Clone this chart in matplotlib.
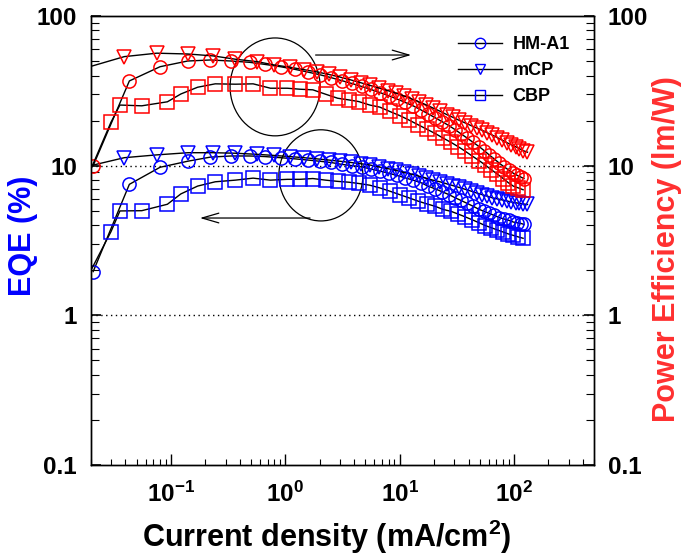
import matplotlib
matplotlib.use("Agg")
import matplotlib.pyplot as plt
from matplotlib.lines import Line2D
from matplotlib.patches import Ellipse

plt.rcParams['font.family'] = ['Liberation Sans', 'DejaVu Sans']
plt.rcParams['font.weight'] = 'bold'
plt.rcParams['mathtext.fontset'] = 'custom'
plt.rcParams['mathtext.rm'] = 'Liberation Sans:bold'
plt.rcParams['mathtext.bf'] = 'Liberation Sans:bold'
plt.rcParams['mathtext.default'] = 'bf'

# current density (mA/cm2) for each device
j_hm = [0.0209, 0.0433, 0.0803, 0.140, 0.221, 0.335, 0.489, 0.658, 0.908, 1.21,
        1.57, 2.00, 2.49, 3.11, 3.81, 4.66, 5.58, 6.70, 8.04, 9.44,
        11.1, 13.1, 15.3, 17.7, 20.4, 23.4, 27.0, 30.5, 34.4, 38.8,
        43.9, 49.5, 54.8, 60.6, 67.0, 74.1, 82.0, 90.8, 98.4, 107, 116, 122]
j_mcp = [0.0150, 0.0391, 0.0752, 0.141, 0.233, 0.366, 0.568, 0.793, 1.09, 1.45,
         1.88, 2.39, 2.99, 3.73, 4.57, 5.48, 6.58, 7.88, 9.27, 10.9,
         12.8, 14.7, 17.0, 19.5, 22.5, 25.9, 29.3, 33.0, 37.3, 42.2,
         47.5, 52.6, 58.2, 64.4, 71.3, 78.8, 87.1, 94.4, 103, 111, 120, 131]
j_cbp = [0.0150, 0.0299, 0.0358, 0.0556, 0.0931, 0.122, 0.171, 0.244, 0.366, 0.523,
         0.741, 1.04, 1.34, 1.74, 2.25, 2.87, 3.58, 4.38, 5.48, 6.70,
         8.20, 10.0, 12.0, 14.4, 17.3, 20.4, 23.9, 28.1, 32.4, 37.3,
         43.0, 49.5, 55.9, 63.1, 71.2, 80.3, 88.9, 98.4, 109, 120]

# external quantum efficiency (%)
eqe_hm = [1.96, 7.5, 9.75, 10.7, 11.4, 11.6, 11.6, 11.5, 11.3, 11.1,
          10.9, 10.7, 10.5, 10.2, 10.0, 9.8, 9.5, 9.2, 8.9, 8.6,
          8.3, 8.0, 7.7, 7.3, 7.0, 6.7, 6.4, 6.1, 5.85, 5.6,
          5.35, 5.1, 4.95, 4.8, 4.65, 4.5, 4.4, 4.3, 4.2, 4.15, 4.1, 4.05]
eqe_mcp = [9.5, 11.3, 11.8, 12.2, 12.2, 12.1, 11.9, 11.7, 11.5, 11.3,
           11.1, 10.9, 10.7, 10.5, 10.3, 10.1, 9.8, 9.55, 9.3, 9.0,
           8.75, 8.5, 8.25, 8.0, 7.8, 7.55, 7.35, 7.15, 6.95, 6.75,
           6.55, 6.4, 6.25, 6.1, 6.0, 5.9, 5.8, 5.72, 5.65, 5.6, 5.55, 5.5]
eqe_cbp = [1.31, 3.62, 4.98, 5.0, 5.52, 6.47, 7.3, 7.8, 8.0, 8.25,
           8.0, 8.1, 8.1, 8.2, 8.0, 7.85, 7.75, 7.6, 7.4, 7.1,
           6.75, 6.4, 6.1, 5.8, 5.55, 5.35, 5.1, 4.95, 4.75, 4.55,
           4.35, 4.15, 3.98, 3.85, 3.72, 3.6, 3.5, 3.42, 3.34, 3.27]

# power efficiency (lm/W)
pe_hm = [10.0, 36.8, 45.8, 50.0, 50.8, 50.0, 49.0, 47.5, 45.8, 44.0,
         42.2, 40.5, 38.8, 37.0, 35.4, 33.8, 32.3, 30.8, 29.3, 27.9,
         26.5, 25.1, 23.6, 22.2, 20.9, 19.7, 18.5, 17.4, 16.3, 15.3,
         14.3, 13.4, 12.6, 11.8, 11.1, 10.4, 9.8, 9.3, 8.9, 8.6, 8.35, 8.2]
pe_mcp = [43.2, 53.5, 56.4, 55.7, 54.1, 51.4, 49.5, 47.1, 45.5, 43.8,
          42.3, 40.7, 39.1, 37.4, 35.8, 34.4, 33.0, 31.7, 30.5, 29.2,
          27.9, 26.7, 25.5, 24.3, 23.1, 21.9, 21.0, 20.1, 19.3, 18.5,
          17.8, 17.2, 16.6, 16.0, 15.4, 14.8, 14.2, 13.8, 13.4, 13.0, 12.6, 12.3]
pe_cbp = [5.7, 19.5, 25.4, 25.1, 26.7, 30.1, 33.4, 35.2, 35.0, 35.2,
          32.9, 32.9, 32.4, 32.1, 30.0, 28.2, 27.5, 26.8, 25.4, 24.6,
          23.0, 21.6, 20.2, 18.8, 17.5, 16.4, 15.3, 14.3, 13.4, 12.5,
          11.6, 10.8, 10.1, 9.4, 8.8, 8.2, 7.7, 7.3, 7.1, 6.9]

hosts = ['HM-A1', 'mCP', 'CBP']
markers = ['o', 'v', 's']

blue = '#0000ff'
red = '#ff0000'

fig = plt.figure(figsize=(6.92, 5.58), dpi=100)
ax = fig.add_axes([0.1315, 0.1667, 0.7269, 0.8047])
ax2 = ax.twinx()

ms = 9.5
for j, eqe, pe, m in zip([j_hm, j_mcp, j_cbp], [eqe_hm, eqe_mcp, eqe_cbp],
                         [pe_hm, pe_mcp, pe_cbp], markers):
    ax.plot(j, eqe, color='k', lw=1.0, marker=m, ms=ms, mfc='none', mec=blue, mew=1.1)
    ax2.plot(j, pe, color='k', lw=1.0, marker=m, ms=ms, mfc='none', mec=red, mew=1.1)

for a in (ax, ax2):
    a.set_xscale('log')
    a.set_yscale('log')
    a.set_xlim(0.02, 500)
    a.set_ylim(0.1, 100)
    a.set_yticks([0.1, 1, 10, 100])
    a.set_yticklabels(['0.1', '1', '10', '100'])
    a.tick_params(axis='y', which='major', direction='in', length=7, width=1.2, labelsize=17.5, pad=10)
    a.tick_params(axis='y', which='minor', direction='in', length=6, width=0.8)

ax.axhline(10, color='k', ls=(0, (1, 2.5)), lw=1.0, zorder=0)
ax.axhline(1, color='k', ls=(0, (1, 2.5)), lw=1.0, zorder=0)

ax.set_xticks([0.1, 1, 10, 100])
ax.set_xticklabels([r'$\mathbf{10^{-1}}$', r'$\mathbf{10^{0}}$', r'$\mathbf{10^{1}}$', r'$\mathbf{10^{2}}$'])
ax.tick_params(axis='x', which='major', direction='in', length=8, width=1.0, labelsize=17.5, pad=12, top=False)
ax.tick_params(axis='x', which='minor', direction='in', length=4, width=0.8, top=False)
ax2.tick_params(axis='x', which='both', top=False, bottom=False)

for a in (ax, ax2):
    for s in a.spines.values():
        s.set_linewidth(1.0)

ax.set_xlabel('Current density (mA/cm$^2$)', fontsize=22, fontweight='bold')
ax.xaxis.set_label_coords(0.469, -0.118)
ax.set_ylabel('EQE (%)', fontsize=22, fontweight='bold', color=blue)
ax.yaxis.set_label_coords(-0.105, 0.51)
ax2.set_ylabel('Power Efficiency (lm/W)', fontsize=22, fontweight='bold', color='#ff3030')
ax2.yaxis.set_label_coords(1.115, 0.48)

# highlight ellipses and arrows
ax.add_patch(Ellipse((0.366, 0.842), 0.179, 0.218, transform=ax.transAxes,
                     fill=False, ec='k', lw=0.9))
ax.add_patch(Ellipse((0.457, 0.645), 0.167, 0.203, transform=ax.transAxes,
                     fill=False, ec='k', lw=0.9))
ax.annotate('', xy=(0.642, 0.913), xytext=(0.441, 0.913), xycoords='axes fraction',
            arrowprops=dict(arrowstyle='->,head_length=1.2,head_width=0.35', lw=0.9, color='k'))
ax.annotate('', xy=(0.211, 0.550), xytext=(0.441, 0.550), xycoords='axes fraction',
            arrowprops=dict(arrowstyle='->,head_length=1.2,head_width=0.35', lw=0.9, color='k'))

handles = [Line2D([], [], color='k', lw=1.0, marker=m, ms=7.5, mfc='none', mec=blue, mew=1.0)
           for m in markers]
ax2.legend(handles, hosts, loc='upper left', bbox_to_anchor=(0.730, 0.955), frameon=False,
           handlelength=2.4, handletextpad=0.6, labelspacing=0.5,
           borderpad=0, borderaxespad=0, prop={'weight': 'bold', 'size': 13})

fig.savefig('out.png', dpi=100)
